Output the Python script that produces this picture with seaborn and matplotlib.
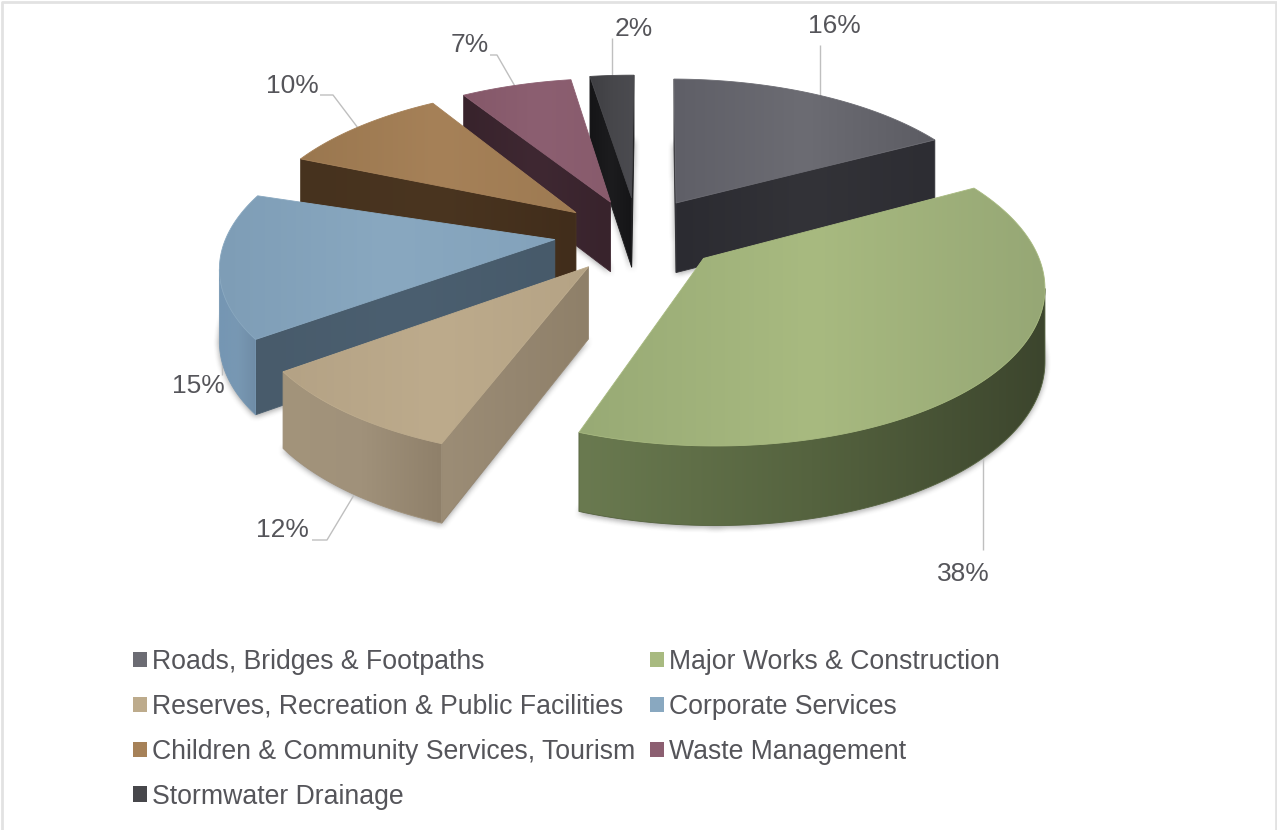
import numpy as np
import matplotlib
matplotlib.use("Agg")
import matplotlib.pyplot as plt
import seaborn as sns
from matplotlib.path import Path
from matplotlib.patches import Polygon, Patch
from matplotlib.colors import LinearSegmentedColormap

# ---- data -------------------------------------------------------------
categories = ["Roads, Bridges & Footpaths", "Major Works & Construction",
              "Reserves, Recreation & Public Facilities", "Corporate Services",
              "Children & Community Services, Tourism", "Waste Management",
              "Stormwater Drainage"]
shares = np.array([16, 38, 12, 15, 10, 7, 2], dtype=float)

# ---- view of the tilted pie --------------------------------------------
CX, CY = 636.85, 235.95      # screen position of the pie centre
RX, RY = 328.23, 151.82      # screen radii
PERSPECTIVE = 0.151          # foreshortening towards the back
EXPLODE = 0.24994            # slice offset, in radii
WALL = 71                    # wall height at the centre depth
# per-slice view corrections: (start, end) in degrees, and offset scale
edge_shift_deg = [(0.59, 4.06), (4.01, 5.87), (6.06, -3.84), (-4.08, -4.2),
                  (1.52, 0.64), (0.34, -1.70), (-1.63, 0.35)]
explode_scale = [1.026, 0.983, 0.974, 1.001, 0.986, 0.980, 1.045]

# ---- colours: left, middle, right of each face --------------------------
top_colors = [("#5f5f67", "#6c6c73", "#5c5c63"), ("#98aa75", "#a8ba80", "#96a775"),
              ("#b4a285", "#bdab8c", "#b5a385"), ("#7e9db6", "#89a8c0", "#83a2bb"),
              ("#9a774f", "#a68158", "#9d7a52"), ("#855869", "#8c5f71", "#885b6c"),
              ("#3e3e42", "#47474b", "#4b4b50")]
arc_colors = [("#2b2b31", "#333338", "#2d2d33"), ("#6a7a50", "#55633f", "#3c452d"),
              ("#a3947b", "#a0917a", "#8f806a"), ("#7596b3", "#7898b3", "#6f8ca6"),
              ("#44301d", "#4e3822", "#44301d"), ("#38232c", "#3f2832", "#38232c"),
              ("#151517", "#1c1c1e", "#151517")]
side_colors = [("#2b2b31", "#333338", "#2d2d33"), ("#6a7a50", "#55633f", "#3c452d"),
               ("#9c8d76", "#958670", "#8f8069"), ("#485b6b", "#4b5f70", "#475a6a"),
               ("#46321e", "#4a3520", "#412d1b"), ("#38232c", "#3f2832", "#38232c"),
               ("#151517", "#1c1c1e", "#151517")]
swatch_colors = sns.color_palette([c[1] for c in top_colors])
TEXT = "#55555a"

# ---- label placement -----------------------------------------------------
label_xy = [(834, 26), (963, 574), (282, 530), (198, 386), (292, 86), (470, 45), (634, 29)]
leader_paths = [[(820, 100), (820, 45)], [(983, 445), (983, 550)],
                [(357, 490), (327, 540), (312, 540)], [(222, 265), (222, 375)],
                [(358, 128), (333, 95), (320, 95)], [(516, 88), (497, 55), (490, 55)],
                [(612, 80), (612, 38)]]
paint_order = [6, 5, 0, 4, 3, 2, 1]      # back to front
legend_order = [0, 2, 4, 6, 1, 3, 5]     # two columns fill top to bottom

sns.set_theme(style="white")
plt.rcParams["font.family"] = ["Liberation Sans", "DejaVu Sans"]

fig, ax = plt.subplots(figsize=(12.77, 8.30), dpi=100)
ax.set_position([0, 0, 1, 1])
ax.axis("off")

edges = np.r_[0, np.cumsum(shares)] / shares.sum() * 2 * np.pi


def project(px, py):
    w = 1 + PERSPECTIVE * py
    return CX + RX * px / w, CY - RY * py / w, WALL * w ** -0.6


def slice_outline(i):
    """Apex followed by the outer arc of slice i, in screen pixels."""
    mid = (edges[i] + edges[i + 1]) / 2
    off = EXPLODE * explode_scale[i]
    ox, oy = off * np.sin(mid), off * np.cos(mid)
    start = edges[i] + np.radians(edge_shift_deg[i][0])
    stop = edges[i + 1] + np.radians(edge_shift_deg[i][1])
    th = np.linspace(start, stop, int(max(12, (stop - start) * 80)))
    return project(np.r_[ox, ox + np.sin(th)], np.r_[oy, oy + np.cos(th)])


def fill_gradient(poly, stops, z):
    poly = np.asarray(poly)
    x0, x1 = poly[:, 0].min(), poly[:, 0].max()
    y0, y1 = poly[:, 1].min(), poly[:, 1].max()
    cmap = LinearSegmentedColormap.from_list("face", stops)
    im = ax.imshow(np.linspace(0, 1, 256).reshape(1, -1), cmap=cmap,
                   extent=(x0, x1 + .01, y1 + .01, y0), aspect="auto",
                   zorder=z, interpolation="bilinear")
    clip = Polygon(poly, closed=True, fc="none", ec="none", transform=ax.transData)
    ax.add_patch(clip)
    im.set_clip_path(clip)
    ax.add_patch(Polygon(poly, closed=True, fc="none", ec=stops[1], lw=.6, zorder=z))


def blur(a, n):
    k = np.ones(n) / n
    a = np.apply_along_axis(lambda m: np.convolve(m, k, "same"), 0, a)
    return np.apply_along_axis(lambda m: np.convolve(m, k, "same"), 1, a)


# soft shadow below the base of each slice
gx, gy = np.meshgrid(np.arange(1277) + .5, np.arange(830) + .5)
grid = np.c_[gx.ravel(), gy.ravel()]
footprint = np.zeros(gx.shape)
for i in range(len(shares)):
    X, Y, h = slice_outline(i)
    inside = Path(np.c_[X, Y + h + 2]).contains_points(grid).reshape(gx.shape)
    footprint = np.maximum(footprint, inside * 1.0)
soft = np.clip(blur(blur(footprint, 9), 5), 0, 1)
shadow = np.zeros(gx.shape + (4,))
shadow[..., :3] = .25
shadow[..., 3] = soft * .55
ax.imshow(shadow, extent=(0, 1277, 830, 0), aspect="auto", zorder=1,
          interpolation="bilinear")

# slices: the walls that face the viewer, then the top face
z = 10
for i in paint_order:
    X, Y, h = slice_outline(i)
    n = len(X)
    sequences = [([0, 1], side_colors[i]),
                 (list(range(1, n)), arc_colors[i]),
                 ([n - 1, 0], side_colors[i])]
    for seq, stops in sequences:
        runs, cur = [], []
        for a, b in zip(seq[:-1], seq[1:]):
            if X[b] < X[a] - 1e-9:           # the edge runs leftwards: front facing
                if cur and cur[-1] == a:
                    cur.append(b)
                else:
                    if cur:
                        runs.append(cur)
                    cur = [a, b]
        if cur:
            runs.append(cur)
        for run in runs:
            run = np.array(run)
            poly = np.r_[np.c_[X[run], Y[run]], np.c_[X[run], Y[run] + h[run]][::-1]]
            fill_gradient(poly, stops, z)
            z += 1
    fill_gradient(np.c_[X, Y], top_colors[i], z)
    z += 1

# leader lines and value labels
for i, share in enumerate(shares):
    ax.plot(*zip(*leader_paths[i]), color="#bfbfbf", lw=1, zorder=2,
            solid_capstyle="butt")
    ax.text(*label_xy[i], f"{share:.0f}%", fontsize=19, color=TEXT,
            ha="center", va="center", zorder=500)

handles = [Patch(fc=swatch_colors[i], ec="none", label=categories[i]) for i in legend_order]
ax.legend(handles=handles, ncol=2, frameon=False, loc="upper left",
          bbox_to_anchor=(133 / 1277, 1 - 649 / 830), bbox_transform=ax.transAxes,
          prop={"size": 19.2}, handlelength=.53, handleheight=.53, handletextpad=.2,
          columnspacing=.52, labelspacing=.71, borderpad=0, borderaxespad=0,
          labelcolor=TEXT)

# chart frame: open at the bottom
ax.plot([1.5, 1.5, 1276, 1276], [830, 2.5, 2.5, 830], color="#e2e2e2", lw=2, zorder=0)
ax.set_xlim(0, 1277)
ax.set_ylim(830, 0)
fig.savefig("out.png", dpi=100)
